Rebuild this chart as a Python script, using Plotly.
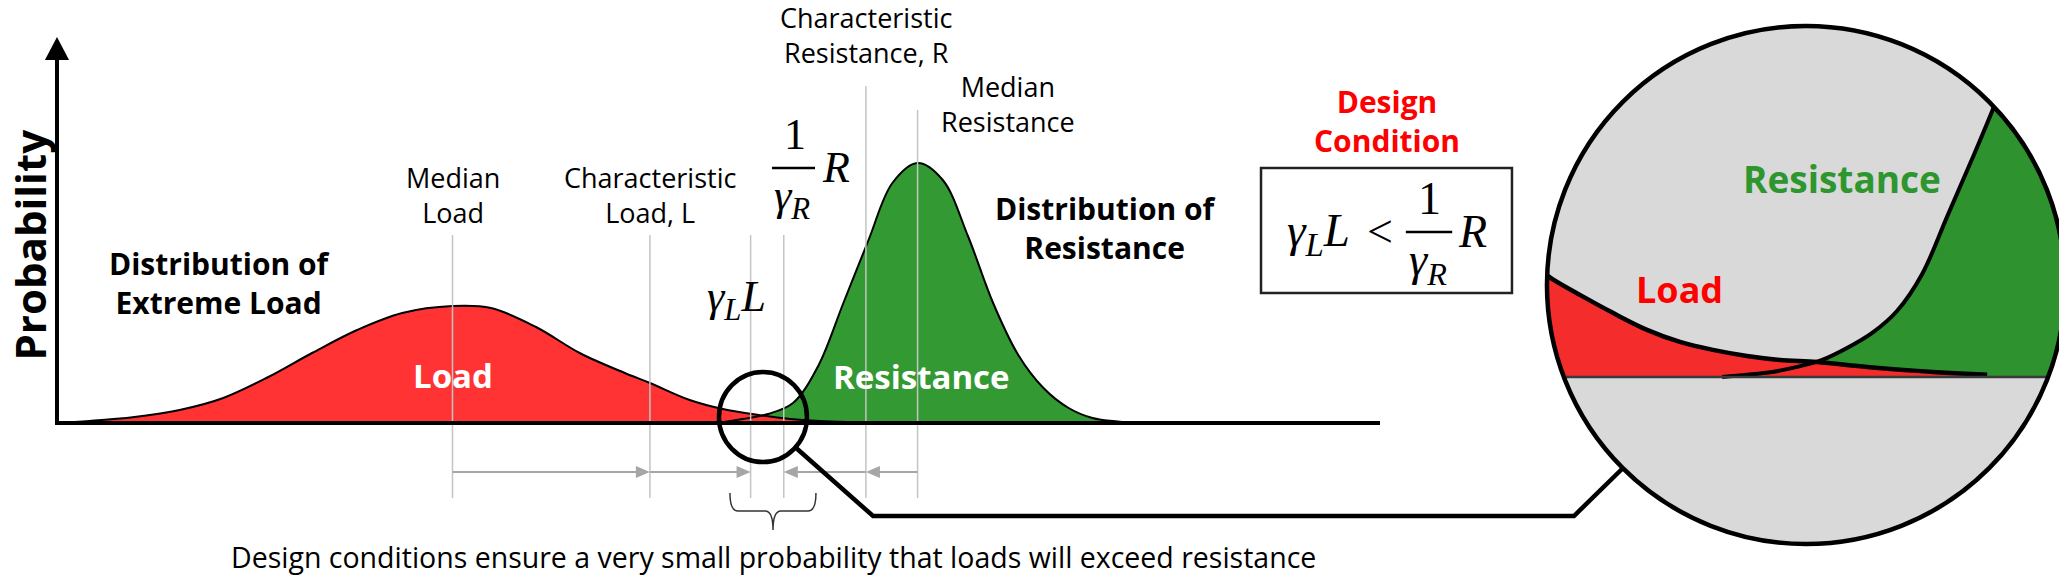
import plotly.graph_objects as go

# ---------------- data ----------------
# main chart: value axis (arbitrary load / resistance units) and probability density
load_x = [0.0, 2.6, 6.0, 9.4, 12.7, 16.1, 19.4, 22.8, 26.2, 30.0, 32.9, 36.3, 39.6,
          43.0, 44.9, 47.9, 50.4, 53.1, 55.5, 57.7, 59.8]
load_y = [0.0, 0.02, 0.06, 0.13, 0.25, 0.46, 0.70, 0.93, 1.10, 1.17, 1.15, 0.96, 0.70,
          0.50, 0.40, 0.23, 0.14, 0.08, 0.04, 0.02, 0.01]

res_x = [50.0, 51.9, 53.8, 55.7, 57.6, 59.5, 61.4, 63.2, 65.1, 67.0, 68.9, 70.8,
         72.7, 74.6, 76.5, 78.3, 80.2, 82.1]
res_y = [0.0, 0.04, 0.09, 0.20, 0.57, 1.20, 1.83, 2.40, 2.60, 2.43, 1.87, 1.20,
         0.68, 0.35, 0.15, 0.05, 0.015, 0.0]

# magnified view of the overlap region
zoom_load_x = [43.8, 44.17, 45.10, 46.20, 47.34, 48.44, 49.54, 50.68, 51.78, 53.02,
               54.69, 56.36, 57.46, 58.70]
zoom_load_y = [0.455, 0.421, 0.352, 0.275, 0.202, 0.150, 0.116, 0.090, 0.073, 0.064,
               0.043, 0.026, 0.017, 0.009]
zoom_res_x = [49.85, 50.68, 51.52, 52.35, 53.19, 54.02, 54.86, 55.69, 56.53, 57.36,
              58.20, 59.03, 59.87, 60.70, 61.55]
zoom_res_y = [0.0, 0.009, 0.021, 0.043, 0.073, 0.124, 0.189, 0.283, 0.442, 0.687,
              0.936, 1.193, 1.481, 1.803, 2.15]

# reference positions on the value axis
marker_names = ["Median Load", "Characteristic Load", "gammaL*L", "R/gammaR",
                "Characteristic Resistance", "Median Resistance"]
marker_x = [30.0, 44.9, 52.5, 55.0, 61.2, 65.1]
marker_top = [1.88, 1.88, 1.88, 1.88, 3.37, 3.13]

# ---------------- figure ----------------
W, H = 2067, 578
OFF = 8  # page body margin compensation (px)
RED, GREEN = "#FF3333", "#339933"
ZRED, ZGREEN = "#F52C2C", "#2E922E"
SP = dict(shape="spline", smoothing=1.0)

fig = go.Figure()
fig.add_trace(go.Scatter(x=res_x, y=res_y, mode="lines", fill="tozeroy", fillcolor=GREEN,
                         line=dict(width=0, **SP), hoverinfo="skip"))
fig.add_trace(go.Scatter(x=load_x, y=load_y, mode="lines", fill="tozeroy", fillcolor=RED,
                         line=dict(width=0, **SP), hoverinfo="skip"))
fig.add_trace(go.Scatter(x=res_x, y=res_y, mode="lines",
                         line=dict(width=2, color="black", **SP), hoverinfo="skip"))
fig.add_trace(go.Scatter(x=load_x, y=load_y, mode="lines",
                         line=dict(width=2, color="black", **SP), hoverinfo="skip"))
fig.add_trace(go.Scatter(x=zoom_res_x, y=zoom_res_y, mode="lines", fill="tozeroy", fillcolor=ZGREEN,
                         line=dict(width=0, **SP), xaxis="x2", yaxis="y2", hoverinfo="skip"))
fig.add_trace(go.Scatter(x=zoom_load_x, y=zoom_load_y, mode="lines", fill="tozeroy", fillcolor=ZRED,
                         line=dict(width=0, **SP), xaxis="x2", yaxis="y2", hoverinfo="skip"))
fig.add_trace(go.Scatter(x=zoom_res_x, y=zoom_res_y, mode="lines",
                         line=dict(width=4, color="black", **SP), xaxis="x2", yaxis="y2", hoverinfo="skip"))
fig.add_trace(go.Scatter(x=zoom_load_x, y=zoom_load_y, mode="lines",
                         line=dict(width=4.5, color="black", **SP), xaxis="x2", yaxis="y2", hoverinfo="skip"))

shapes = []


def S(**kw):
    kw.setdefault("xref", "x")
    kw.setdefault("yref", "y")
    shapes.append(kw)


cx, cy, rx, ry = 132.15, 1.38, 19.55, 2.59
S(type="circle", x0=cx - rx, x1=cx + rx, y0=cy - ry, y1=cy + ry,
  fillcolor="#D9D9D9", line=dict(width=0), layer="below")
for mx, top in zip(marker_x, marker_top):
    S(type="line", x0=mx, x1=mx, y0=top, y1=-0.75, line=dict(color="#C4C4C4", width=1.5))
# baseline and probability axis with arrow head
S(type="line", x0=0, x1=100, y0=0, y1=0, line=dict(color="black", width=4))
S(type="line", x0=0.15, x1=0.15, y0=0, y1=3.66, line=dict(color="black", width=4))
S(type="path", path="M 0.15,3.86 L 1.06,3.63 L -0.76,3.63 Z", fillcolor="black", line=dict(width=0))
# gray dimension arrows
AY, HL, HH = -0.49, 1.06, 0.06
for tail, head in [(marker_x[0], marker_x[1]), (marker_x[1], marker_x[2]),
                   (marker_x[5], marker_x[4]), (marker_x[4], marker_x[3])]:
    sgn = 1 if head > tail else -1
    S(type="line", x0=tail, x1=head - sgn * HL * 0.9, y0=AY, y1=AY, line=dict(color="#A6A6A6", width=2))
    S(type="path", path=f"M {head},{AY} L {head - sgn*HL},{AY+HH} L {head - sgn*HL},{AY-HH} Z",
      fillcolor="#A6A6A6", line=dict(width=0))
# small magnifier circle
S(type="circle", x0=50.11, x1=56.75, y0=-0.39, y1=0.51, line=dict(color="black", width=4.5))
# brace
x0b, x1b, xcb = 50.94, 57.43, 54.19
yt, yh, ytip, d = -0.70, -0.88, -1.07, 0.6
brace = (f"M {x0b},{yt} Q {x0b},{yh} {x0b+d},{yh} L {xcb-d},{yh} Q {xcb},{yh} {xcb},{ytip} "
         f"Q {xcb},{yh} {xcb+d},{yh} L {x1b-d},{yh} Q {x1b},{yh} {x1b},{yt}")
S(type="path", path=brace, line=dict(color="#333333", width=1.5))
# inset baseline
S(type="line", xref="x2", yref="y2", x0=43.5, x1=61.5, y0=0, y1=0, line=dict(color="#3A3A3A", width=2.5))
# mask outside the big circle
k = 0.5523
circ = (f"M {cx+rx},{cy} C {cx+rx},{cy+k*ry} {cx+k*rx},{cy+ry} {cx},{cy+ry} "
        f"C {cx-k*rx},{cy+ry} {cx-rx},{cy+k*ry} {cx-rx},{cy} "
        f"C {cx-rx},{cy-k*ry} {cx-k*rx},{cy-ry} {cx},{cy-ry} "
        f"C {cx+k*rx},{cy-ry} {cx+rx},{cy-k*ry} {cx+rx},{cy} Z")
rect = "M 112.2,-1.27 L 152.5,-1.27 L 152.5,4.05 L 112.2,4.05 Z"
S(type="path", path=rect + " " + circ, fillrule="evenodd", fillcolor="white", line=dict(width=0))
# connector
S(type="path", path="M 55.85,-0.24 L 61.74,-0.93 L 114.64,-0.93 L 118.34,-0.45",
  line=dict(color="black", width=4.5))
# big circle border
S(type="circle", x0=cx - rx, x1=cx + rx, y0=cy - ry, y1=cy + ry, line=dict(color="black", width=4.5))
# design condition box and fraction bars
S(type="rect", x0=91.02, x1=109.96, y0=1.30, y1=2.55, line=dict(color="#222222", width=2.5))
S(type="line", x0=54.11, x1=57.36, y0=2.55, y1=2.55, line=dict(color="black", width=2.5))
S(type="line", x0=101.95, x1=105.45, y0=1.91, y1=1.91, line=dict(color="black", width=2.5))

ann = []


def txt(x, y, s, size, color="black", family="Open Sans", **kw):
    ann.append(dict(x=x, y=y, xref="x", yref="y", text=s, showarrow=False,
                    font=dict(family=family, size=size, color=color),
                    xanchor="center", yanchor="middle", **kw))


MATH = "Liberation Serif"
txt(-2.0, 1.78, "<b>Probability</b>", 42, textangle=-90, borderpad=0)
txt(12.38, 1.405, "<b>Distribution of<br>Extreme Load</b>", 30)
txt(79.25, 1.95, "<b>Distribution of<br>Resistance</b>", 30)
txt(marker_x[0], 2.28, "Median<br>Load", 27)
txt(marker_x[1], 2.28, "Characteristic<br>Load, L", 27)
txt(marker_x[4], 3.88, "Characteristic<br>Resistance, R", 27)
txt(71.9, 3.19, "Median<br>Resistance", 27)
txt(marker_x[0], 0.48, "<b>Load</b>", 33, color="white")
txt(65.4, 0.47, "<b>Resistance</b>", 33, color="white")
txt(100.5, 3.02, "<b>Design<br>Condition</b>", 30, color="#FF0000")
txt(134.87, 2.45, "<b>Resistance</b>", 37, color="#2E962E")
txt(122.64, 1.34, "<b>Load</b>", 36, color="#FF0000")
txt(54.19, -1.34, "Design conditions ensure a very small probability that loads will exceed resistance", 28.5)
# math labels above the chart
txt(55.85, 2.89, "1", 44, family=MATH)
txt(55.62, 2.25, "<i>γ<sub>R</sub></i>", 44, family=MATH)
txt(58.94, 2.56, "<i>R</i>", 44, family=MATH)
txt(51.40, 1.24, "<i>γ<sub>L</sub>L</i>", 44, family=MATH)
# formula in box
txt(95.35, 1.90, "<i>γ<sub>L</sub>L</i>", 47, family=MATH)
txt(100.0, 1.92, "&lt;", 46, family=MATH)
txt(103.75, 2.25, "1", 46, family=MATH)
txt(103.65, 1.60, "<i>γ<sub>R</sub></i>", 46, family=MATH)
txt(107.0, 1.92, "<i>R</i>", 46, family=MATH)

hidden = dict(visible=False, showgrid=False, zeroline=False, fixedrange=True)
fig.update_layout(
    width=W, height=H, autosize=False, showlegend=False,
    margin=dict(l=0, r=0, t=0, b=0, pad=0),
    paper_bgcolor="white", plot_bgcolor="rgba(0,0,0,0)",
    xaxis=dict(range=[-(55 - OFF) / 13.25, (W - 55 + OFF) / 13.25], domain=[0, 1], **hidden),
    yaxis=dict(range=[-(H - 423 + OFF) / 100, (423 - OFF) / 100], domain=[0, 1], **hidden),
    xaxis2=dict(range=[44.0, 61.3], domain=[(1547 - OFF) / W, (2065 - OFF) / W], anchor="y2", **hidden),
    yaxis2=dict(range=[-0.717, 1.506], domain=[1 - (544 - OFF) / H, 1 - (26 - OFF) / H], anchor="x2", **hidden),
    shapes=shapes, annotations=ann,
)
fig.write_html("out.html")
